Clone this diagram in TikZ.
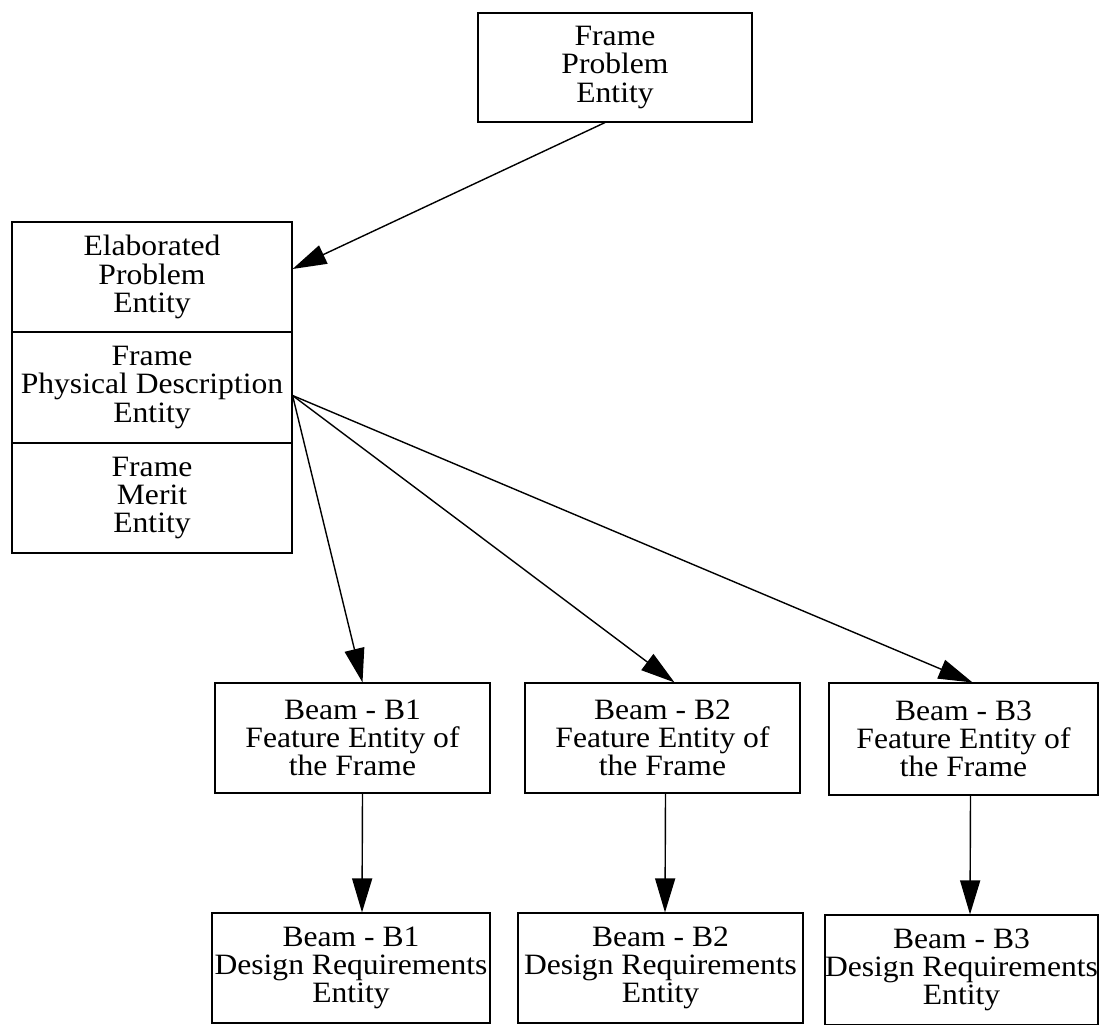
\documentclass[tikz,border=0pt]{standalone}
\usepackage{fontspec}
\setmainfont{Liberation Serif}
\newfontfamily\entityfont[FakeStretch=1.07]{Liberation Serif}
\usetikzlibrary{arrows.meta,calc}
\begin{document}
\begin{tikzpicture}[x=0.25mm,y=-0.25mm,
  entity/.style={draw,line width=0.8pt,rectangle,align=center,inner sep=0pt,
    font=\entityfont\fontsize{21}{20}\selectfont},
  link/.style={line width=1pt,-{Triangle[length=8.5mm,width=5mm]}}]
\useasboundingbox (0,0) rectangle (1105,1024);

% problem entity at the top
\node[entity,minimum width=274*0.25mm,minimum height=109*0.25mm] (top) at (615,67.5)
  {Frame\\Problem\\Entity};

% stacked frame entities on the left
\node[entity,minimum width=280*0.25mm,minimum height=110*0.25mm] (elab) at (152,277)
  {Elaborated\\Problem\\Entity};
\node[entity,minimum width=280*0.25mm,minimum height=111*0.25mm] (phys) at (152,387.5)
  {Frame\\Physical Description\\Entity};
\node[entity,minimum width=280*0.25mm,minimum height=110*0.25mm] (merit) at (152,498)
  {Frame\\Merit\\Entity};

% beam feature entities
\node[entity,minimum width=275*0.25mm,minimum height=110*0.25mm] (f1) at (352.5,738)
  {Beam - B1\\Feature Entity of\\the Frame};
\node[entity,minimum width=275*0.25mm,minimum height=110*0.25mm] (f2) at (662.5,738)
  {Beam - B2\\Feature Entity of\\the Frame};
\node[entity,minimum width=269*0.25mm,minimum height=112*0.25mm] (f3) at (963.5,739)
  {Beam - B3\\Feature Entity of\\the Frame};

% beam design requirement entities
\node[entity,minimum width=278*0.25mm,minimum height=110*0.25mm] (d1) at (351,968)
  {Beam - B1\\Design Requirements\\Entity};
\node[entity,minimum width=285*0.25mm,minimum height=110*0.25mm] (d2) at (660.5,968)
  {Beam - B2\\Design Requirements\\Entity};
\node[entity,minimum width=273*0.25mm,minimum height=110*0.25mm] (d3) at (961.5,970)
  {Beam - B3\\Design Requirements\\Entity};

% connector end points
\coordinate (topout) at ($(top.south)+(-10,0)$);
\coordinate (elabin) at ($(elab.east)+(0,-8)$);
\coordinate (physout) at ($(phys.east)+(0,8)$);
\coordinate (f1in) at ($(f1.north)+(10,0)$);
\coordinate (f2in) at ($(f2.north)+(12,0)$);
\coordinate (f3in) at ($(f3.north)+(9,0)$);

\draw[link] (topout) -- (elabin);
\draw[link] (physout) -- (f1in);
\draw[link] (physout) -- (f2in);
\draw[link] (physout) -- (f3in);
\draw[link] ($(f1.south)+(10,0)$) -- ($(d1.north)+(11,0)$);
\draw[link] ($(f2.south)+(3,0)$) -- ($(d2.north)+(4.5,0)$);
\draw[link] ($(f3.south)+(7,0)$) -- ($(d3.north)+(8.5,0)$);
\end{tikzpicture}
\end{document}
